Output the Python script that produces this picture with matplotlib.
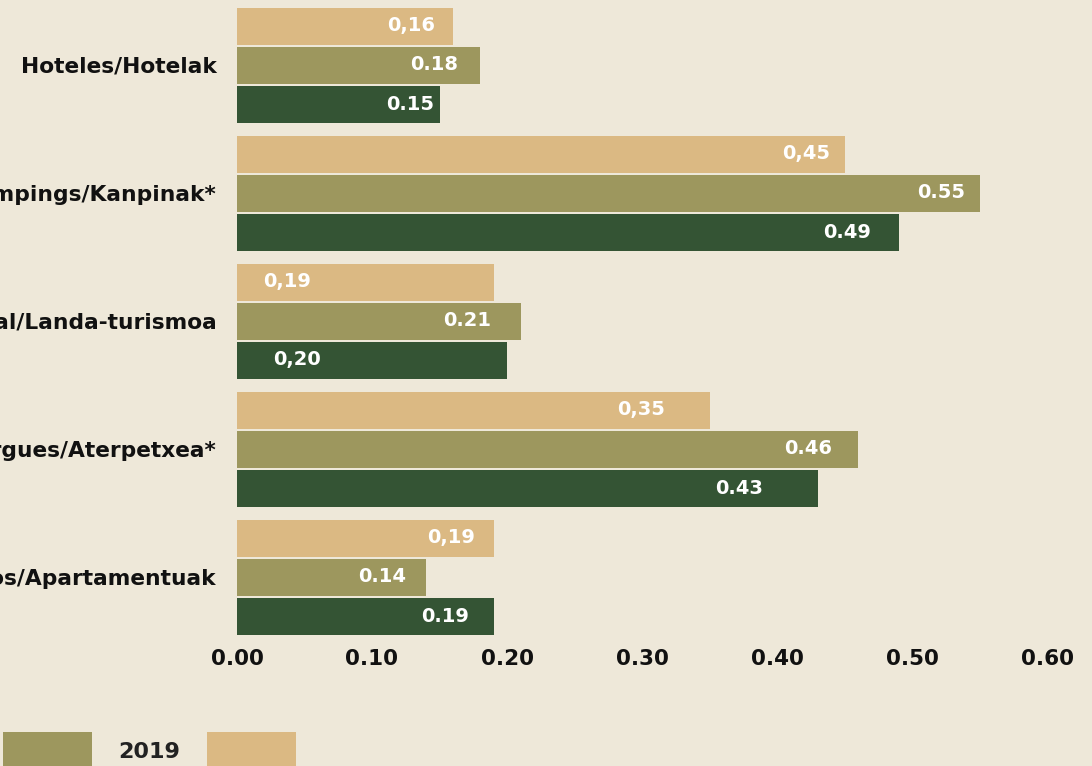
import matplotlib
matplotlib.use("Agg")
import matplotlib.pyplot as plt
from matplotlib.patches import Patch
import numpy as np

# 数据
categories = [
    "Hoteles/Hotelak",
    "Campings/Kanpinak*",
    "Turismo rural/Landa-turismoa",
    "Albergues/Aterpetxea*",
    "Apartamentos/Apartamentuak",
]
years = ["2019", "2020", "2021"]
values_2019 = [0.16, 0.45, 0.19, 0.35, 0.19]
values_2020 = [0.18, 0.55, 0.21, 0.46, 0.14]
values_2021 = [0.15, 0.49, 0.20, 0.43, 0.19]
labels_2019 = ["0,16", "0,45", "0,19", "0,35", "0,19"]
labels_2020 = ["0.18", "0.55", "0.21", "0.46", "0.14"]
labels_2021 = ["0.15", "0.49", "0,20", "0.43", "0.19"]
# 数值标签右端位置（数据单位）
label_x_2019 = [0.147, 0.439, 0.055, 0.317, 0.176]
label_x_2020 = [0.164, 0.539, 0.188, 0.441, 0.125]
label_x_2021 = [0.146, 0.470, 0.062, 0.390, 0.172]
xticks = [0.0, 0.1, 0.2, 0.3, 0.4, 0.5, 0.6]

BG = "#EEE8D9"
COLORS = {"2019": "#DBB983", "2020": "#9D975E", "2021": "#345434"}
FONT = ["DejaVu Sans"]

plt.rcParams["font.family"] = FONT
plt.rcParams["font.weight"] = "bold"

fig = plt.figure(figsize=(10.92, 7.66), dpi=100, facecolor=BG)
ax = fig.add_axes([237 / 1092, 1 - 641 / 766, 810 / 1092, 640 / 766])
ax.set_facecolor(BG)

y = np.arange(len(categories))
offset = 39 / 128
height = 37 / 128

series = [
    (values_2019, labels_2019, label_x_2019, "2019", -offset),
    (values_2020, labels_2020, label_x_2020, "2020", 0.0),
    (values_2021, labels_2021, label_x_2021, "2021", offset),
]
for vals, labs, lx, yr, off in series:
    ax.barh(y + off, vals, height=height, color=COLORS[yr], linewidth=0)
    for yi, lab, xx in zip(y + off, labs, lx):
        ax.text(xx, yi, lab, ha="right", va="center", color="white",
                fontsize=14, fontweight="bold")

ax.set_xlim(0, 0.6)
ax.set_ylim(len(categories) - 0.5, -0.5)
ax.set_yticks(y)
ax.set_yticklabels(categories)
ax.set_xticks(xticks)
ax.set_xticklabels([f"{t:.2f}" for t in xticks])
ax.tick_params(axis="y", length=0, pad=14.4, labelsize=15.7, labelcolor="#111111")
ax.tick_params(axis="x", length=0, pad=6, labelsize=15.5, labelcolor="#111111")
for lbl in ax.get_xticklabels() + ax.get_yticklabels():
    lbl.set_fontweight("bold")
for s in ax.spines.values():
    s.set_visible(False)

handles = [Patch(facecolor=COLORS[yr], edgecolor="none") for yr in ["2021", "2020", "2019"]]
leg = fig.legend(handles, ["2021", "2020", "2019"], loc="upper left",
                 bbox_to_anchor=(0, 0), ncol=3, frameon=False, markerfirst=False,
                 handlelength=4.0, handleheight=2.2, handletextpad=1.2,
                 columnspacing=1.2, borderpad=0, borderaxespad=0,
                 prop={"size": 16, "weight": "bold", "family": FONT})
for t in leg.get_texts():
    t.set_color("#222222")

# 调整图例位置，使 2019 色块位于目标位置
fig.canvas.draw()
patch_ext = leg.legend_handles[2].get_window_extent()
leg_ext = leg.get_window_extent()
dx = 207 - patch_ext.x0
dy = (766 - 732) - patch_ext.y1
new_x = (leg_ext.x0 + dx) / 1092
new_y = (leg_ext.y1 + dy) / 766
leg.set_bbox_to_anchor((new_x, new_y), transform=fig.transFigure)

fig.savefig("out.png", dpi=100, facecolor=BG)
